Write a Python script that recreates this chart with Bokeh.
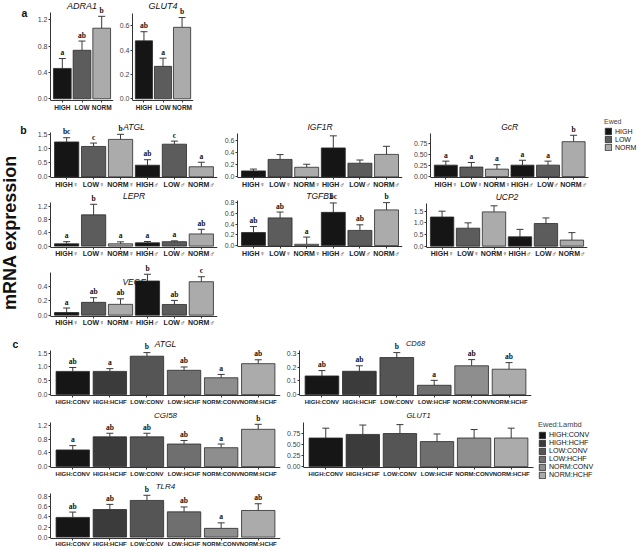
from bokeh.plotting import figure
from bokeh.models import (ColumnDataSource, Range1d, FixedTicker, NumeralTickFormatter,
                          Whisker, TeeHead, Legend, LegendItem, Label, LabelSet)
from bokeh.layouts import row, column
from bokeh.embed import file_html
from bokeh.resources import INLINE
import math

FONT = "Liberation Sans"

# ---------------- data ----------------
ewed = ["HIGH", "LOW", "NORM"]
ewed_colors = ["#151515", "#5c5c5c", "#ababab"]
sex_groups = ["HIGH\u2640", "LOW\u2640", "NORM\u2640", "HIGH\u2642", "LOW\u2642", "NORM\u2642"]
sex_colors = ["#151515", "#5c5c5c", "#ababab", "#151515", "#5c5c5c", "#ababab"]
diet_groups = ["HIGH:CONV", "HIGH:HCHF", "LOW:CONV", "LOW:HCHF", "NORM:CONV", "NORM:HCHF"]
diet_colors = ["#161616", "#3b3b3b", "#555555", "#6f6f6f", "#8e8e8e", "#ababab"]

# panel a
adra1_mean = [0.46, 0.735, 1.07]
adra1_err = [0.15, 0.14, 0.18]
adra1_sig = ["a", "ab", "b"]
adra1_ticks = [0.0, 0.4, 0.8, 1.2]

glut4_mean = [0.475, 0.266, 0.586]
glut4_err = [0.075, 0.067, 0.08]
glut4_sig = ["ab", "a", "b"]
glut4_ticks = [0.0, 0.2, 0.4, 0.6]

# panel b
atglb_mean = [1.24, 1.08, 1.33, 0.415, 1.16, 0.36]
atglb_err = [0.15, 0.12, 0.18, 0.195, 0.11, 0.16]
atglb_sig = ["bc", "c", "b", "ab", "c", "a"]
atglb_ticks = [0.0, 0.5, 1.0, 1.5]

igf1r_mean = [0.10, 0.29, 0.16, 0.48, 0.227, 0.373]
igf1r_err = [0.03, 0.08, 0.05, 0.20, 0.053, 0.134]
igf1r_ticks = [0.0, 0.2, 0.4, 0.6]

gcr_mean = [0.26, 0.216, 0.17, 0.26, 0.26, 0.79]
gcr_err = [0.09, 0.104, 0.10, 0.11, 0.09, 0.145]
gcr_sig = ["a", "a", "a", "a", "a", "b"]
gcr_ticks = [0.0, 0.25, 0.5, 0.75]

lepr_mean = [0.07, 0.95, 0.07, 0.10, 0.135, 0.37]
lepr_err = [0.065, 0.32, 0.06, 0.04, 0.025, 0.14]
lepr_sig = ["a", "b", "a", "a", "a", "ab"]
lepr_ticks = [0.0, 0.4, 0.8, 1.2]

tgfb1_mean = [0.246, 0.52, 0.025, 0.624, 0.285, 0.67]
tgfb1_err = [0.111, 0.11, 0.135, 0.176, 0.105, 0.136]
tgfb1_sig = ["ab", "ab", "a", "bc", "ab", "b"]
tgfb1_ticks = [0.0, 0.2, 0.4, 0.6, 0.8]

ucp2_mean = [1.25, 0.77, 1.47, 0.40, 0.97, 0.26]
ucp2_err = [0.25, 0.23, 0.26, 0.32, 0.24, 0.32]
ucp2_ticks = [0.0, 0.5, 1.0, 1.5]

vegf_mean = [0.037, 0.18, 0.152, 0.48, 0.15, 0.47]
vegf_err = [0.063, 0.065, 0.078, 0.095, 0.057, 0.07]
vegf_sig = ["a", "ab", "ab", "b", "ab", "c"]
vegf_ticks = [0.0, 0.2, 0.4]

# panel c
atglc_mean = [0.84, 0.84, 1.39, 0.88, 0.61, 1.12]
atglc_err = [0.14, 0.10, 0.13, 0.12, 0.12, 0.14]
atglc_sig = ["ab", "a", "b", "ab", "a", "ab"]
atglc_ticks = [0.0, 0.5, 1.0, 1.5]

cd68_mean = [0.136, 0.17, 0.27, 0.068, 0.21, 0.185]
cd68_err = [0.039, 0.04, 0.036, 0.036, 0.045, 0.048]
cd68_sig = ["ab", "ab", "b", "a", "ab", "ab"]
cd68_ticks = [0.0, 0.1, 0.2, 0.3]

cgi58_mean = [0.485, 0.865, 0.865, 0.657, 0.55, 1.085]
cgi58_err = [0.125, 0.105, 0.105, 0.103, 0.107, 0.145]
cgi58_sig = ["a", "ab", "ab", "ab", "a", "b"]
cgi58_ticks = [0.0, 0.4, 0.8, 1.2]

glut1_mean = [0.64, 0.72, 0.74, 0.56, 0.64, 0.64]
glut1_err = [0.22, 0.21, 0.20, 0.17, 0.19, 0.22]
glut1_ticks = [0.0, 0.25, 0.5, 0.75]

tlr4_mean = [0.39, 0.545, 0.725, 0.5, 0.173, 0.527]
tlr4_err = [0.105, 0.102, 0.102, 0.096, 0.109, 0.133]
tlr4_sig = ["ab", "ab", "b", "ab", "a", "ab"]
tlr4_ticks = [0.0, 0.2, 0.4, 0.6, 0.8]


# ---------------- helpers ----------------
def bar_panel(title, cats, means, errs, sigs, colors, yticks, yfmt,
              fig_w, fig_h, left, right, axis_top, axis_bottom, title_y,
              extra_right=0, title_size="8.5px", xlab_size="7px"):
    """axis_top / axis_bottom / title_y: pixel offsets from the figure's top edge."""
    n = len(cats)
    xs = list(range(1, n + 1))
    upper = [m + e for m, e in zip(means, errs)]
    ymax = max(upper) * 1.05
    ymin = -0.02 * ymax
    dpp = (ymax - ymin) / (axis_bottom - axis_top)
    y_range = Range1d(ymin - (fig_h - axis_bottom) * dpp, ymax + axis_top * dpp)
    data_w = fig_w - left - right - extra_right
    dpx = (n + 0.2) / data_w
    x_range = Range1d(0.4, n + 0.6 + extra_right * dpx)

    src = ColumnDataSource(dict(x=xs, top=means, upper=upper, color=colors,
                                sig=sigs if sigs else [""] * n))
    p = figure(width=fig_w, height=fig_h, x_range=x_range, y_range=y_range,
               output_backend="svg", toolbar_location=None,
               min_border_left=left, min_border_right=right,
               min_border_top=0, min_border_bottom=0)
    p.outline_line_color = None
    p.grid.visible = False
    p.background_fill_color = "white"
    p.title.text = ""
    p.title.visible = False
    wh = Whisker(base="x", lower="top", upper="upper", source=src,
                 line_color="#3a3a3a", line_width=1, lower_head=None,
                 upper_head=TeeHead(size=7, line_color="#3a3a3a", line_width=1),
                 level="underlay")
    p.add_layout(wh)
    r = p.vbar(x="x", top="top", bottom=0, width=0.9, source=src,
               fill_color="color", line_color="#2a2a2a", line_width=0.8)
    if sigs:
        p.add_layout(LabelSet(x="x", y="upper", text="sig", source=src,
                              text_align="center", text_baseline="bottom",
                              y_offset=1.5, text_font=FONT, text_font_size="7.5px",
                              text_font_style="bold", text_color="#111111"))
    p.add_layout(Label(x=(n + 1) / 2, x_units="data", y=fig_h - title_y, y_units="screen",
                       text=title, text_align="center", text_baseline="middle",
                       text_font=FONT, text_font_style="italic",
                       text_font_size=title_size, text_color="#111111"))
    # axes
    p.xaxis.ticker = FixedTicker(ticks=xs)
    p.xaxis.major_label_overrides = {x: c for x, c in zip(xs, cats)}
    p.xaxis.fixed_location = ymin
    p.xaxis.bounds = (0.4, n + 0.6)
    p.yaxis.ticker = FixedTicker(ticks=yticks)
    p.yaxis.formatter = NumeralTickFormatter(format=yfmt)
    p.yaxis.bounds = (ymin, ymax)
    for ax in (p.xaxis[0], p.yaxis[0]):
        ax.axis_label = None
        ax.axis_line_color = "#333333"
        ax.axis_line_width = 1
        ax.major_tick_line_color = "#333333"
        ax.major_tick_out = 2
        ax.major_tick_in = 0
        ax.minor_tick_line_color = None
        ax.major_label_standoff = 1
        ax.major_label_text_font = FONT
    p.yaxis.major_label_text_font_size = "7px"
    p.yaxis.major_label_text_color = "#444444"
    p.xaxis.major_label_text_font_size = xlab_size
    p.xaxis.major_label_text_font_style = "bold"
    p.xaxis.major_label_text_color = "#222222"
    return p, r


def add_legend(p, r, labels, title, vx, vy, lab_size, title_size, item_h):
    items = [LegendItem(label=lab, renderers=[r], index=i) for i, lab in enumerate(labels)]
    lg = Legend(items=items, location=(vx, vy), title=title,
                label_text_font=FONT, label_text_font_size=lab_size,
                label_text_color="#111111", label_height=item_h,
                glyph_height=item_h, glyph_width=8, spacing=0, padding=0, margin=0,
                label_standoff=3, border_line_color=None, background_fill_alpha=0,
                title_text_font=FONT, title_text_font_size=title_size,
                title_text_font_style="normal", title_standoff=2)
    p.add_layout(lg)


# ---------------- panel a (row 0..114) ----------------
pa1, _ = bar_panel("ADRA1", ewed, adra1_mean, adra1_err, adra1_sig, ewed_colors,
                   adra1_ticks, "0.0", 82, 114, 15, 3, 11.7, 100, 5,
                   title_size="9px", xlab_size="6.5px")
pa2, _ = bar_panel("GLUT4", ewed, glut4_mean, glut4_err, glut4_sig, ewed_colors,
                   glut4_ticks, "0.0", 84, 114, 12, 7, 13, 100, 5,
                   title_size="9px", xlab_size="6.5px")

# ---------------- panel b ----------------
# row 114..189
pb1, _ = bar_panel("ATGL", sex_groups, atglb_mean, atglb_err, atglb_sig, sex_colors,
                   atglb_ticks, "0.0", 187, 75, 15, 4, 17.7, 63.3, 12)
pb2, _ = bar_panel("IGF1R", sex_groups, igf1r_mean, igf1r_err, None, sex_colors,
                   igf1r_ticks, "0.0", 189, 75, 14, 8, 19.3, 63.3, 12)
pb3, rb3 = bar_panel("GcR", sex_groups, gcr_mean, gcr_err, gcr_sig, sex_colors,
                     gcr_ticks, "0.00", 228, 75, 14, 0, 18.7, 63, 12, extra_right=51)
add_legend(pb3, rb3, ewed, "Ewed", 174, 38, "7px", "7px", 8)

# row 189..262
pb4, _ = bar_panel("LEPR", sex_groups, lepr_mean, lepr_err, lepr_sig, sex_colors,
                   lepr_ticks, "0.0", 187, 73, 15, 4, 12.7, 57.5, 6)
pb5, _ = bar_panel("TGFB1", sex_groups, tgfb1_mean, tgfb1_err, tgfb1_sig, sex_colors,
                   tgfb1_ticks, "0.0", 189, 73, 14, 8, 11, 57, 6)
pb6, _ = bar_panel("UCP2", sex_groups, ucp2_mean, ucp2_err, None, sex_colors,
                   ucp2_ticks, "0.0", 228, 73, 14, 51, 14.3, 57.5, 7.7)

# row 262..335
pb7, _ = bar_panel("VEGF", sex_groups, vegf_mean, vegf_err, vegf_sig, sex_colors,
                   vegf_ticks, "0.0", 187, 73, 15, 4, 9.7, 53.5, 19)

# ---------------- panel c ----------------
# row 335..410
pc1, _ = bar_panel("ATGL", diet_groups, atglc_mean, atglc_err, atglc_sig, diet_colors,
                   atglc_ticks, "0.0", 249, 75, 14, 3, 15, 60, 8,
                   title_size="8.5px", xlab_size="6px")
pc2, _ = bar_panel("CD68", diet_groups, cd68_mean, cd68_err, cd68_sig, diet_colors,
                   cd68_ticks, "0.0", 252, 75, 13, 4, 15, 60, 8,
                   title_size="7.5px", xlab_size="6px")
# row 410..480
pc3, _ = bar_panel("CGI58", diet_groups, cgi58_mean, cgi58_err, cgi58_sig, diet_colors,
                   cgi58_ticks, "0.0", 249, 70, 13, 3, 11.7, 57, 5,
                   title_size="8px", xlab_size="6px")
pc4, rc4 = bar_panel("GLUT1", diet_groups, glut1_mean, glut1_err, None, diet_colors,
                     glut1_ticks, "0.00", 355, 70, 17, 0, 12, 57, 5, extra_right=106,
                     title_size="7.5px", xlab_size="6px")
add_legend(pc4, rc4, diet_groups, "Ewed:Lambd", 235, 1, "7.1px", "7.5px", 8)
# row 480..549
pc5, _ = bar_panel("TLR4", diet_groups, tlr4_mean, tlr4_err, tlr4_sig, diet_colors,
                   tlr4_ticks, "0.0", 249, 69, 13, 3, 12.7, 57.5, 6,
                   title_size="8px", xlab_size="6px")

# ---------------- left strip (panel letters, shared y label) ----------------
strip = figure(width=34, height=549, x_range=Range1d(0, 34), y_range=Range1d(0, 549),
               output_backend="svg", toolbar_location=None, min_border=0,
               x_axis_location=None, y_axis_location=None)
strip.grid.visible = False
strip.outline_line_color = None
for txt, x, y in [("a", 24, 537), ("b", 23, 420), ("c", 15, 206)]:
    strip.add_layout(Label(x=x, y=y, text=txt, text_font=FONT, text_font_size="10.5px",
                           text_font_style="bold", text_align="center",
                           text_baseline="middle", text_color="#111111"))
strip.add_layout(Label(x=9.5, y=317, text="mRNA expression", angle=math.pi / 2,
                       text_font=FONT, text_font_size="18px", text_font_style="bold",
                       text_align="center", text_baseline="middle", text_color="#111111"))

main = column(
    row(pa1, pa2),
    row(pb1, pb2, pb3),
    row(pb4, pb5, pb6),
    row(pb7),
    row(pc1, pc2),
    row(pc3, pc4),
    row(pc5),
)
layout = row(strip, main)

open("out.html", "w").write(file_html(layout, INLINE))
